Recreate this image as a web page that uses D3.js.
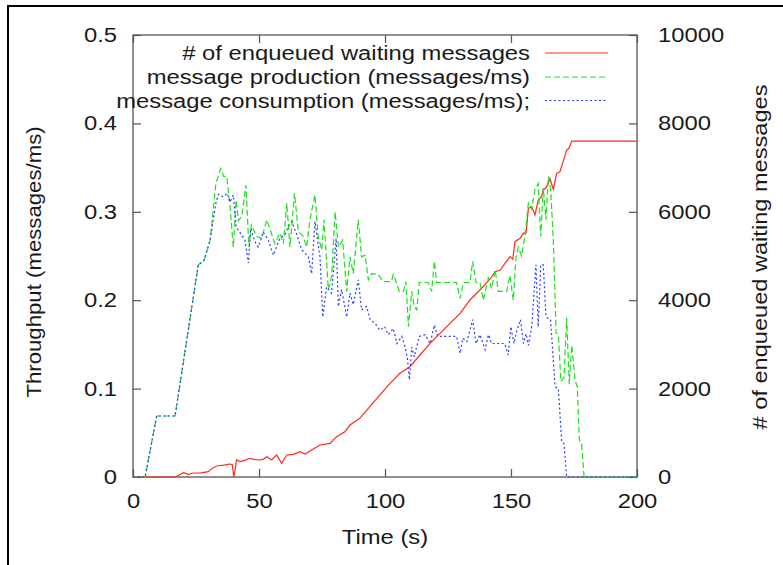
<!DOCTYPE html>
<html>
<head>
<meta charset="utf-8">
<script src="https://cdn.jsdelivr.net/npm/d3@7"></script>
<style>
  html, body { margin: 0; padding: 0; background: #fff; }
  svg { display: block; }
  text { font-family: "Liberation Sans", Arial, Helvetica, sans-serif; fill: #1a1a1a; }
</style>
</head>
<body>
<svg id="chart" width="783" height="565"></svg>
<script>
// Throughput samples: [time (s), messages/ms]
const production = [
  [0,0],[4.8,0],[9.4,0.069],[16.7,0.069],[25.9,0.24],[28.2,0.245],[30.6,0.268],[32.9,0.332],
  [34.8,0.349],[36,0.34],[37.2,0.34],[38.5,0.306],[39.8,0.26],[40.9,0.313],[41.8,0.29],[43.2,0.295],
  [44.8,0.33],[46,0.26],[47,0.285],[49.1,0.272],[51.1,0.27],[53.1,0.291],[56.3,0.264],[58.3,0.276],
  [59.7,0.264],[61,0.31],[62.3,0.26],[64.1,0.321],[65.6,0.278],[67.6,0.272],[68.9,0.26],[70.2,0.291],
  [72.2,0.319],[73.5,0.272],[74.9,0.257],[75.8,0.291],[77.5,0.212],[78.8,0.227],[80.2,0.3],[81.5,0.26],
  [83.2,0.268],[84.8,0.21],[86.1,0.249],[87.4,0.23],[89.4,0.291],[90.7,0.249],[92.1,0.251],[93.4,0.223],
  [94.7,0.23],[97.4,0.229],[99.3,0.221],[102.6,0.221],[103.3,0.229],[104.4,0.221],[105.7,0.21],[107.3,0.21],
  [108.3,0.221],[109.3,0.17],[110.6,0.21],[111.6,0.193],[112.6,0.189],[113.6,0.22],[117.2,0.22],[118.5,0.21],
  [119.6,0.244],[120.5,0.22],[128.4,0.22],[129.8,0.202],[131.1,0.22],[133.7,0.22],[134.8,0.244],[136.1,0.22],
  [137.7,0.22],[139,0.2],[141,0.225],[142.3,0.213],[143.7,0.234],[145,0.21],[148.3,0.21],[149.6,0.228],
  [150.9,0.2],[152,0.249],[152.9,0.26],[154.2,0.25],[155.6,0.274],[156.9,0.31],[158.2,0.303],[159.5,0.325],
  [160.8,0.332],[161.8,0.272],[162.8,0.327],[163.9,0.291],[164.8,0.34],[165.7,0.327],[166.8,0.268],[167.9,0.163],
  [168.8,0.161],[169.8,0.108],[171,0.112],[172.1,0.18],[173.1,0.105],[174.1,0.149],[175.4,0.11],[176.3,0.102],
  [177.1,0.042],[178,0.038],[179,0],[200,0]
];

const consumption = [
  [0,0],[4.8,0],[9.4,0.069],[16.7,0.069],[25.9,0.24],[28.2,0.245],[30.6,0.268],[32.9,0.31],
  [34,0.32],[35.8,0.317],[37.4,0.321],[38.5,0.311],[39.8,0.319],[40.9,0.283],[41.8,0.279],[43.1,0.274],
  [44.4,0.268],[45.8,0.242],[46.7,0.281],[48.4,0.266],[49.7,0.26],[51.7,0.277],[53.7,0.268],[55.7,0.251],
  [58.3,0.27],[60.3,0.274],[61.6,0.283],[63,0.289],[65,0.274],[67,0.257],[69.6,0.249],[70.9,0.23],
  [72.2,0.289],[74.2,0.249],[75.3,0.181],[76.8,0.215],[78.8,0.208],[80.6,0.27],[81.5,0.193],[82.8,0.212],
  [84.8,0.181],[86.1,0.208],[87.4,0.195],[89.4,0.223],[90.7,0.189],[92.7,0.193],[94.1,0.178],[96,0.174],
  [98,0.166],[99.9,0.17],[101.3,0.161],[103.3,0.168],[104.7,0.151],[106.7,0.159],[108,0.147],[108.9,0.134],
  [109.7,0.11],[110.6,0.147],[111.6,0.136],[113.6,0.159],[115.9,0.161],[117.9,0.151],[119.6,0.172],[120.9,0.159],
  [128.4,0.159],[129.8,0.14],[130.9,0.157],[132.5,0.153],[134.8,0.178],[136.1,0.151],[137.7,0.161],[139.7,0.144],
  [141,0.161],[142.3,0.151],[147.5,0.151],[148.9,0.138],[149.9,0.17],[151.2,0.151],[152.3,0.166],[153.8,0.178],
  [154.9,0.151],[156,0.162],[156.9,0.149],[158.2,0.17],[159.9,0.24],[160.8,0.17],[161.8,0.24],[162.8,0.24],
  [163.9,0.181],[165.7,0.178],[167.5,0.102],[168.8,0.1],[170.1,0.04],[171,0.038],[172.1,0],[200,0]
];

// Queue length samples: [time (s), messages waiting]
const queued = [
  [0,0],[16.7,0],[20,97],[22,60],[24,90],[27,95],[29.9,120],[31.5,200],[33.2,249],[36,270],
  [38.5,294],[39.4,280],[40,0],[40.6,200],[41.1,385],[42.5,350],[44,370],[46.4,423],[48,400],[50,385],
  [51.7,400],[53.1,460],[55,385],[57,498],[59,310],[61,498],[63.6,513],[66.3,573],[68.3,520],[70.9,611],
  [74.2,724],[78.2,762],[80.8,912],[84.1,1025],[86.1,1176],[90,1327],[93.4,1554],[97.4,1817],[102,2120],
  [105.9,2346],[109.9,2496],[113.9,2760],[117.9,3025],[121.8,3251],[125.8,3477],[129.8,3703],[133.7,4005],
  [137.7,4231],[141.7,4480],[143.7,4645],[145.7,4683],[147.6,4834],[149.6,4985],[150.7,4925],[151.6,5324],
  [153.6,5400],[154.9,5513],[156,5528],[156.9,6079],[158.2,6116],[159.5,5928],[160.8,6267],[162.1,6342],
  [162.8,6493],[164.1,6554],[165.4,6758],[166.8,6509],[168.1,6871],[169.4,6907],[170.7,7134],[172.1,7398],
  [173,7436],[174.1,7600],[200,7600]
];

const xTicks = [0, 50, 100, 150, 200];
const leftTicks = [0, 0.1, 0.2, 0.3, 0.4, 0.5];
const leftTickLabels = ["0", "0.1", "0.2", "0.3", "0.4", "0.5"];
const rightTicks = [0, 2000, 4000, 6000, 8000, 10000];

const legendLabels = [
  "# of enqueued waiting messages",
  "message production (messages/ms)",
  "message consumption (messages/ms);"
];

// ---- layout ----
const svg = d3.select("#chart");
const W = 783, H = 565;
const plot = { left: 133, right: 637, top: 35, bottom: 477 };
const FS = 20;          // font size
const SX = 1.19;        // horizontal widening of lettering
const axisColor = "#555";

const x = d3.scaleLinear().domain([0, 200]).range([plot.left, plot.right]);
const yL = d3.scaleLinear().domain([0, 0.5]).range([plot.bottom, plot.top]);
const yR = d3.scaleLinear().domain([0, 10000]).range([plot.bottom, plot.top]);

// outer frame (top and left edges)
svg.append("path")
  .attr("d", `M8,${H} V6 H${W}`)
  .attr("fill", "none").attr("stroke", "#000").attr("stroke-width", 2);

function styleAxis(g) {
  g.select(".domain").remove();
  g.selectAll(".tick line").attr("stroke", axisColor).attr("stroke-width", 1.2);
  g.selectAll(".tick text").style("font-size", FS + "px")
    .style("font-family", '"Liberation Sans", Arial, sans-serif').attr("fill", "#1a1a1a");
}

// left axis
const gL = svg.append("g").attr("transform", `translate(${plot.left},0)`)
  .call(d3.axisLeft(yL).tickValues(leftTicks).tickFormat((d, i) => leftTickLabels[i])
    .tickSizeInner(-8).tickSizeOuter(0));
styleAxis(gL);
gL.selectAll(".tick text").attr("x", -16 / SX).attr("transform", `scale(${SX},1)`);

// right axis
const gR = svg.append("g").attr("transform", `translate(${plot.right},0)`)
  .call(d3.axisRight(yR).tickValues(rightTicks).tickFormat(d3.format("d"))
    .tickSizeInner(-8).tickSizeOuter(0));
styleAxis(gR);
gR.selectAll(".tick text").attr("x", 21 / SX).attr("transform", `scale(${SX},1)`);

// bottom axis
const gB = svg.append("g").attr("transform", `translate(0,${plot.bottom})`)
  .call(d3.axisBottom(x).tickValues(xTicks).tickFormat(d3.format("d"))
    .tickSizeInner(-8).tickSizeOuter(0));
styleAxis(gB);
gB.selectAll(".tick text").attr("y", 17).attr("transform", `scale(${SX},1)`);

// top axis (mirror ticks only)
const gT = svg.append("g").attr("transform", `translate(0,${plot.top})`)
  .call(d3.axisTop(x).tickValues(xTicks).tickFormat("").tickSizeInner(-8).tickSizeOuter(0));
styleAxis(gT);

// plot border
svg.append("rect")
  .attr("x", plot.left).attr("y", plot.top)
  .attr("width", plot.right - plot.left).attr("height", plot.bottom - plot.top)
  .attr("fill", "none").attr("stroke", axisColor).attr("stroke-width", 1.3);

// widened text helper
function label(txt, px, py, anchor, rot, sx) {
  svg.append("text")
    .attr("transform", `translate(${px},${py}) rotate(${rot || 0}) scale(${sx || SX},1)`)
    .attr("text-anchor", anchor)
    .style("font-size", FS + "px")
    .text(txt);
}

// axis titles
label("Time (s)", (plot.left + plot.right) / 2, 544, "middle", 0);
label("Throughput (messages/ms)", 41, 262, "middle", -90, 1.11);
label("# of enqueued waiting messages", 767, 257, "middle", -90, 1.18);

// series
const series = [
  { data: queued, y: yR, color: "#ff2a1a", dash: null },
  { data: production, y: yL, color: "#1ee01e", dash: "6,3" },
  { data: consumption, y: yL, color: "#2a3cff", dash: "2,2.5" }
];

svg.append("clipPath").attr("id", "plotclip").append("rect")
  .attr("x", plot.left).attr("y", plot.top - 1)
  .attr("width", plot.right - plot.left).attr("height", plot.bottom - plot.top + 2);

const lines = svg.append("g").attr("clip-path", "url(#plotclip)");
// queue first, then production, consumption on top
series.forEach(s => {
  const line = d3.line().x(d => x(d[0])).y(d => s.y(d[1]));
  lines.append("path")
    .datum(s.data)
    .attr("d", line)
    .attr("fill", "none")
    .attr("stroke", s.color)
    .attr("stroke-width", 1.2)
    .attr("stroke-dasharray", s.dash);
});

// legend
const legendRowY = [53, 77, 100.5];
series.forEach((s, i) => {
  label(legendLabels[i], 530, legendRowY[i] + 7.2, "end", 0);
  svg.append("line")
    .attr("x1", 545).attr("x2", 608)
    .attr("y1", legendRowY[i]).attr("y2", legendRowY[i])
    .attr("stroke", s.color).attr("stroke-width", 1.2)
    .attr("stroke-dasharray", s.dash);
});
</script>
</body>
</html>
